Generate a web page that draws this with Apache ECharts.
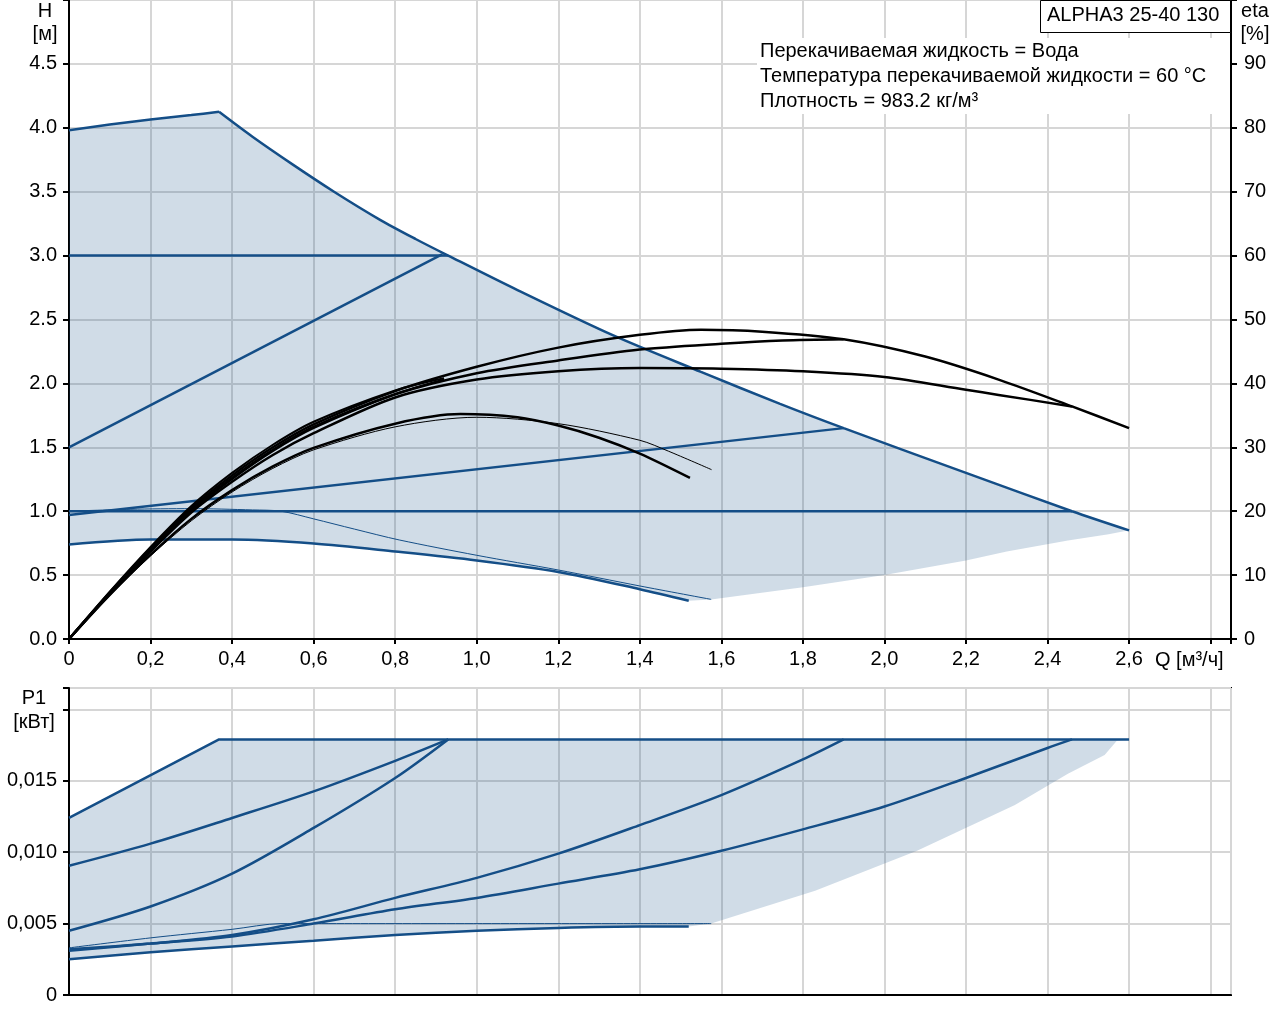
<!DOCTYPE html>
<html>
<head>
<meta charset="utf-8">
<script src="https://cdn.jsdelivr.net/npm/echarts@6/dist/echarts.min.js"></script>
<style>
html, body { margin: 0; padding: 0; background: #fff; }
#chart { width: 1280px; height: 1024px; }
</style>
</head>
<body>
<div id="chart"></div>
<script>
// ---- H(Q) curves, Q in m3/h, H in m ----
var hEnvTop1 = [[0, 3.98], [0.1, 4.025], [0.2, 4.065], [0.3, 4.1], [0.368, 4.125]];
var hEnvTop2 = [[0.368, 4.125], [0.45, 3.93], [0.55, 3.71], [0.65, 3.5], [0.763, 3.28], [0.85, 3.13], [0.93, 3.0],
    [1.1, 2.73], [1.335, 2.375], [1.55, 2.09], [1.744, 1.84], [1.9, 1.65], [2.2, 1.3], [2.46, 1.0], [2.6, 0.85]];
var hEnvRight = [[2.6, 0.85], [2.55, 0.82], [2.45, 0.77], [2.3, 0.685], [2.2, 0.615], [2.0, 0.5], [1.8, 0.405], [1.575, 0.31]];
var hConst3 = [[0, 3.0], [0.93, 3.0]];
var hProp1 = [[0, 1.5], [0.915, 3.01]];
var hConst1 = [[0, 1.0], [2.46, 1.0]];
var hProp2 = [[0, 0.97], [1.9, 1.65]];
var hThin = [[0, 1.0], [0.15, 1.015], [0.3, 1.02], [0.45, 1.01], [0.52, 1.0], [0.6, 0.94], [0.7, 0.86], [0.81, 0.775],
    [1.0, 0.655], [1.2, 0.54], [1.4, 0.415], [1.575, 0.31]];
var hLow = [[0, 0.74], [0.2, 0.778], [0.4, 0.778], [0.6, 0.748], [0.8, 0.685], [1.0, 0.615], [1.2, 0.525],
    [1.4, 0.39], [1.52, 0.3]];

// ---- eta(Q), % ----
var etaA = [[0, 0], [0.1, 7.3], [0.2, 14.2], [0.3, 20.5], [0.4, 25.6], [0.5, 30], [0.6, 33.6], [0.8, 38.8],
    [1.0, 42.6], [1.2, 45.6], [1.4, 47.6], [1.55, 48.4], [1.7, 48.1], [1.9, 46.9], [2.1, 44.2], [2.28, 40.6],
    [2.46, 36.4], [2.6, 33]];
var etaB = [[0, 0], [0.1, 7.2], [0.2, 14], [0.3, 20.2], [0.4, 25.2], [0.5, 29.6], [0.6, 33.2], [0.8, 38.3],
    [1.0, 41.6], [1.2, 43.6], [1.4, 45.3], [1.6, 46.2], [1.75, 46.7], [1.9, 46.9]];
var etaC = [[0, 0], [0.1, 7.1], [0.2, 13.7], [0.3, 19.8], [0.4, 24.6], [0.5, 28.8], [0.6, 32.2], [0.8, 37.8],
    [1.0, 40.6], [1.2, 41.9], [1.4, 42.4], [1.6, 42.3], [1.8, 41.9], [2.0, 41.0], [2.2, 39.0], [2.28, 38.2], [2.46, 36.4]];
var etaD = [[0, 0], [0.1, 6.9], [0.2, 13.2], [0.3, 18.8], [0.4, 23.3], [0.5, 27], [0.6, 29.9], [0.8, 33.7],
    [0.96, 35.2], [1.1, 34.7], [1.2, 33.4], [1.3, 31.5], [1.4, 29], [1.523, 25.2]];
var etaE = [[0, 0], [0.1, 6.8], [0.2, 13], [0.3, 18.5], [0.4, 23], [0.5, 26.7], [0.6, 29.6], [0.8, 33.2],
    [1.0, 34.7], [1.2, 33.7], [1.4, 31.1], [1.47, 29.4], [1.576, 26.5]];
var etaF = [[0, 0], [0.1, 7.4], [0.2, 14.4], [0.3, 20.8], [0.4, 26], [0.5, 30.4], [0.6, 34], [0.8, 38.9], [0.92, 40.8]];
var etaG = [[0, 0], [0.1, 7], [0.2, 13.8], [0.3, 20], [0.4, 25], [0.5, 29.4], [0.6, 33], [0.8, 38.3], [0.92, 40.6]];

// ---- P1(Q), kW ----
var pEnvTop = [[0, 0.0124], [0.368, 0.0179], [2.6, 0.0179]];
var pEnvRight = [[2.6, 0.0179], [2.57, 0.0178], [2.54, 0.0168], [2.45, 0.0155], [2.32, 0.0133], [2.08, 0.0101],
    [1.83, 0.0073], [1.575, 0.005]];
var pProp1 = [[0, 0.00905], [0.2, 0.0106], [0.4, 0.0124], [0.6, 0.01426], [0.8, 0.0164], [0.93, 0.0179]];
var pConst3 = [[0, 0.0045], [0.2, 0.0062], [0.4, 0.0085], [0.6, 0.0117], [0.8, 0.0152], [0.93, 0.0179]];
var pProp2 = [[0, 0.0031], [0.2, 0.0036], [0.4, 0.0042], [0.6, 0.0053], [0.8, 0.0068], [1.0, 0.0082], [1.2, 0.0099],
    [1.4, 0.0119], [1.6, 0.014], [1.8, 0.0165], [1.9, 0.0179]];
var pConst1 = [[0, 0.0032], [0.2, 0.0036], [0.4, 0.0041], [0.6, 0.005], [0.8, 0.006], [1.0, 0.0068], [1.2, 0.0078],
    [1.4, 0.0088], [1.6, 0.0101], [1.8, 0.0116], [2.0, 0.0132], [2.2, 0.0152], [2.4, 0.0173], [2.46, 0.0179]];
var pThin = [[0, 0.0033], [0.2, 0.004], [0.4, 0.0046], [0.52, 0.005], [1.575, 0.005]];
var pLow = [[0, 0.0025], [0.2, 0.003], [0.4, 0.0034], [0.6, 0.0038], [0.8, 0.0042], [1.0, 0.0045], [1.2, 0.0047],
    [1.4, 0.0048], [1.52, 0.0048]];

var infoLines = ['Перекачиваемая жидкость = Вода', 'Температура перекачиваемой жидкости = 60 °C', 'Плотность = 983.2 кг/м³'];

var BLUE = '#144e87';
var FILL = 'rgba(20,78,135,0.2)';
var GRIDC = '#d6d6d6';
var FONT = 'Liberation Sans, Arial, sans-serif';
var FS = 20;

var chart = echarts.init(document.getElementById('chart'));

function line(data, color, width, xi, yi, smooth) {
    return {
        type: 'line', data: data, xAxisIndex: xi, yAxisIndex: yi,
        showSymbol: false, silent: true, smooth: smooth ? 0.3 : false, z: 3,
        lineStyle: { color: color, width: width }
    };
}

function area(pts, xi, yi) {
    return {
        type: 'custom', xAxisIndex: xi, yAxisIndex: yi, silent: true, z: 1,
        data: [[0, 0]],
        renderItem: function (params, api) {
            return {
                type: 'polygon',
                shape: { points: pts.map(function (p) { return api.coord(p); }) },
                style: { fill: FILL }
            };
        }
    };
}

function qLabel(v) {
    if (v > 2.7) return '';
    if (v === 0) return '0';
    return v.toFixed(1).replace('.', ',');
}

function xAx(idx, showLabels) {
    return {
        type: 'value', gridIndex: idx, min: 0, max: 2.85, interval: 0.2,
        axisLine: { show: true, onZero: false, lineStyle: { color: '#000', width: 2 } },
        axisTick: { show: showLabels, length: 5, lineStyle: { color: '#000', width: 2 } },
        axisLabel: { show: showLabels, formatter: qLabel, color: '#000', fontSize: FS, fontFamily: FONT, margin: 10 },
        splitLine: { show: true, lineStyle: { color: GRIDC, width: 2 } }
    };
}

var topArea = hEnvTop1.concat(hEnvTop2.slice(1), hEnvRight.slice(1), hLow.slice().reverse());
var botArea = pEnvTop.concat(pEnvRight.slice(1), pLow.slice().reverse());

var series = [
    area(topArea, 0, 0),
    area(botArea, 1, 2),
    line(hEnvTop1, BLUE, 2.5, 0, 0, true),
    line(hEnvTop2, BLUE, 2.5, 0, 0, true),
    line(hConst3, BLUE, 2.5, 0, 0, false),
    line(hProp1, BLUE, 2.5, 0, 0, false),
    line(hConst1, BLUE, 2.5, 0, 0, false),
    line(hProp2, BLUE, 2.5, 0, 0, false),
    line(hThin, BLUE, 1, 0, 0, true),
    line(hLow, BLUE, 2.5, 0, 0, true),
    line(etaA, '#000', 2.5, 0, 1, true),
    line(etaB, '#000', 2.5, 0, 1, true),
    line(etaC, '#000', 2.5, 0, 1, true),
    line(etaF, '#000', 2, 0, 1, true),
    line(etaG, '#000', 2, 0, 1, true),
    line(etaD, '#000', 2.5, 0, 1, true),
    line(etaE, '#000', 1, 0, 1, true),
    line(pEnvTop, BLUE, 2.5, 1, 2, false),
    line(pProp1, BLUE, 2.5, 1, 2, true),
    line(pConst3, BLUE, 2.5, 1, 2, true),
    line(pProp2, BLUE, 2.5, 1, 2, true),
    line(pConst1, BLUE, 2.5, 1, 2, true),
    line(pThin, BLUE, 1, 1, 2, true),
    line(pLow, BLUE, 2.5, 1, 2, true)
];

var txt = function (x, y, s, align) {
    return { type: 'text', x: x, y: y, z: 100,
        style: { text: s, fill: '#000', font: FS + 'px ' + FONT, align: align || 'center', verticalAlign: 'middle' } };
};

var graphics = [
    { type: 'rect', z: 99, shape: { x: 757, y: 38, width: 473, height: 76 }, style: { fill: '#fff' } },
    { type: 'rect', z: 99, shape: { x: 1040.5, y: 0.5, width: 190, height: 32 }, style: { fill: '#fff', stroke: '#000', lineWidth: 1 } },
    txt(1047, 15, 'ALPHA3 25-40 130', 'left'),
    txt(45, 11, 'H'), txt(45, 34, '[м]'),
    txt(1255, 11, 'eta'), txt(1255, 34, '[%]'),
    txt(34, 698, 'P1'), txt(34, 722, '[кВт]'),
    txt(1155, 660, 'Q [м³/ч]', 'left')
];
infoLines.forEach(function (s, i) { graphics.push(txt(760, 51 + i * 25, s, 'left')); });

chart.setOption({
    animation: false,
    backgroundColor: '#fff',
    grid: [
        { left: 69, right: 49, top: 0, height: 639, show: true, borderColor: '#000', borderWidth: 2 },
        { left: 69, right: 49, top: 688, height: 307, show: true, borderColor: '#000', borderWidth: 2 }
    ],
    xAxis: [xAx(0, true), xAx(1, false)],
    yAxis: [
        {
            type: 'value', gridIndex: 0, min: 0, max: 5, interval: 0.5,
            axisLine: { show: true, lineStyle: { color: '#000', width: 2 } },
            axisTick: { show: true, length: 6, lineStyle: { color: '#000', width: 2 } },
            axisLabel: { formatter: function (v) { return v > 4.6 ? '' : v.toFixed(1); },
                color: '#000', fontSize: FS, fontFamily: FONT, margin: 12 },
            splitLine: { show: true, lineStyle: { color: GRIDC, width: 2 } }
        },
        {
            type: 'value', gridIndex: 0, position: 'right', min: 0, max: 100, interval: 10,
            axisLine: { show: true, lineStyle: { color: '#000', width: 2 } },
            axisTick: { show: true, length: 6, lineStyle: { color: '#000', width: 2 } },
            axisLabel: { formatter: function (v) { return v > 95 ? '' : String(v); },
                color: '#000', fontSize: FS, fontFamily: FONT, margin: 13 },
            splitLine: { show: false }
        },
        {
            type: 'value', gridIndex: 1, min: 0, max: 0.0215, interval: 0.005,
            axisLine: { show: true, lineStyle: { color: '#000', width: 2 } },
            axisTick: { show: true, length: 6, lineStyle: { color: '#000', width: 2 } },
            axisLabel: { formatter: function (v) {
                    if (v === 0) return '0';
                    if (v > 0.0175) return '';
                    return v.toFixed(3).replace('.', ',');
                }, color: '#000', fontSize: FS, fontFamily: FONT, margin: 12 },
            splitLine: { show: true, lineStyle: { color: GRIDC, width: 2 } }
        }
    ],
    graphic: graphics,
    series: series
});
</script>
</body>
</html>
